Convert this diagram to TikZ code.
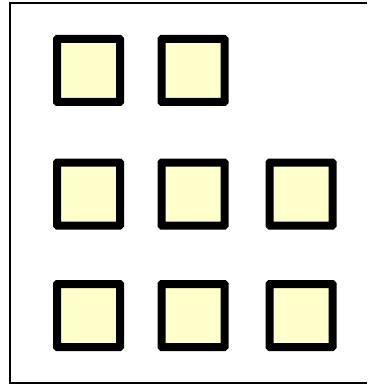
\documentclass[tikz,border=0pt]{standalone}
\usepackage{tikz}
\usepackage{xcolor}
\definecolor{cellfill}{HTML}{FFFFCC}

\tikzset{
    cell/.style={draw=black, fill=cellfill, line width=8pt, rounded corners=0.5pt,
        minimum size=63pt, inner sep=0pt},
    frame/.style={draw=black, line width=2pt}
}

\begin{document}
\begin{tikzpicture}[x=1pt, y=-1pt]
    \useasboundingbox (0,0) rectangle (367,385);
    % outer frame, open to the right
    \draw[frame] (367,3) -- (10,3) -- (10,383) -- (367,383);
    % first row: two cells
    \foreach \c/\x in {1/88.5,2/193} {
        \node[cell] (cell-1-\c) at (\x,70.5) {};
    }
    % second and third rows: three cells each
    \foreach \r/\y in {2/194,3/315.5} {
        \foreach \c/\x in {1/88.5,2/193,3/301} {
            \node[cell] (cell-\r-\c) at (\x,\y) {};
        }
    }
\end{tikzpicture}
\end{document}
